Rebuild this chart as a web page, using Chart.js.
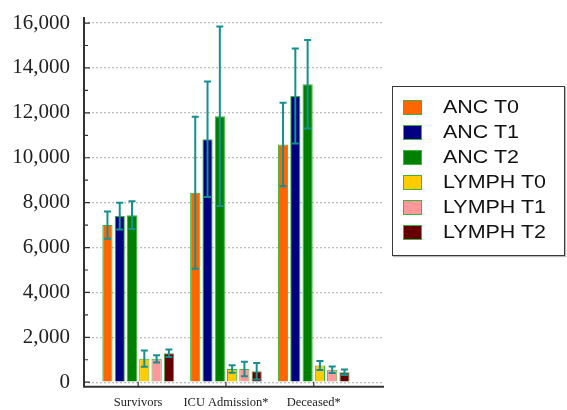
<!DOCTYPE html>
<html>
<head>
<meta charset="utf-8">
<script src="https://cdn.jsdelivr.net/npm/chart.js@4"></script>
<style>
  html, body { margin: 0; padding: 0; background: #fff; }
  #wrap { position: relative; width: 567px; height: 410px; overflow: hidden; }
  #legend { position: absolute; left: 392px; top: 86px; width: 171px; height: 168px;
            border: 1.5px solid #3a3a3a; box-shadow: 1px 1px 1px #bbb; background: #fff; }
  .item { position: absolute; left: 10px; height: 25px; }
  .sw { position: absolute; left: 0; top: 5px; width: 17px; height: 13px; border: 1px solid #3cb43c; }
  .lab { position: absolute; left: 40px; top: 0; font-family: "Liberation Sans", Arial, sans-serif;
         font-size: 19px; line-height: 24px; color: #111; white-space: nowrap;
         transform: scaleX(1.13); transform-origin: left center; }
</style>
</head>
<body>
<div id="wrap">
  <canvas id="c" width="567" height="410"></canvas>
  <div id="legend"></div>
</div>
<script>
const categories = ["Survivors", "ICU Admission*", "Deceased*"];
const seriesNames = ["ANC T0", "ANC T1", "ANC T2", "LYMPH T0", "LYMPH T1", "LYMPH T2"];
const seriesColors = ["#FF6600", "#000080", "#008000", "#FFCC00", "#FF9999", "#660000"];

const ancT0 = [7000, 8440, 10590];
const ancT1 = [7400, 10825, 12750];
const ancT2 = [7440, 11850, 13270];
const lymphT0 = [1050, 590, 740];
const lymphT1 = [1040, 590, 550];
const lymphT2 = [1290, 490, 445];

const ancT0Err = [610, 3390, 1860];
const ancT1Err = [600, 2570, 2115];
const ancT2Err = [620, 4000, 1970];
const lymphT0Err = [360, 170, 200];
const lymphT1Err = [160, 320, 145];
const lymphT2Err = [170, 370, 120];

const yTicks = [0, 2000, 4000, 6000, 8000, 10000, 12000, 14000, 16000];
const yMinorTicks = [1000, 3000, 5000, 7000, 9000, 11000, 13000, 15000];

const seriesValues = [ancT0, ancT1, ancT2, lymphT0, lymphT1, lymphT2];
const seriesErrors = [ancT0Err, ancT1Err, ancT2Err, lymphT0Err, lymphT1Err, lymphT2Err];

const datasets = seriesNames.map((name, s) => ({
  label: name,
  data: seriesValues[s].map((v, i) => ({ x: i + 1, y: v })),
  errors: seriesErrors[s],
  backgroundColor: seriesColors[s],
  borderColor: "#3cb43c",
  borderWidth: 1,
  categoryPercentage: 0.84,
  barPercentage: 0.83
}));

const frame = {
  id: "frame",
  afterDatasetsDraw(chart) {
    const ctx = chart.ctx;
    const y = chart.scales.y, x = chart.scales.x;
    ctx.save();
    ctx.strokeStyle = "#178f8f";
    ctx.lineWidth = 2;
    chart.data.datasets.forEach((ds, di) => {
      const meta = chart.getDatasetMeta(di);
      meta.data.forEach((bar, i) => {
        const v = ds.data[i].y, e = ds.errors[i];
        const yt = y.getPixelForValue(v + e), yb = y.getPixelForValue(v - e);
        ctx.beginPath();
        ctx.moveTo(bar.x, yt); ctx.lineTo(bar.x, yb);
        ctx.moveTo(bar.x - 3.5, yt); ctx.lineTo(bar.x + 3.5, yt);
        ctx.moveTo(bar.x - 3.5, yb); ctx.lineTo(bar.x + 3.5, yb);
        ctx.stroke();
      });
    });
    const ca = chart.chartArea;
    ctx.strokeStyle = "#333";
    ctx.lineWidth = 2;
    ctx.beginPath();
    ctx.moveTo(ca.left, ca.top); ctx.lineTo(ca.left, ca.bottom); ctx.lineTo(ca.right, ca.bottom);
    ctx.stroke();
    ctx.lineWidth = 1.2;
    ctx.beginPath();
    yTicks.forEach(t => { const p = y.getPixelForValue(t); ctx.moveTo(ca.left, p); ctx.lineTo(ca.left + 6, p); });
    yMinorTicks.forEach(t => { const p = y.getPixelForValue(t); ctx.moveTo(ca.left, p); ctx.lineTo(ca.left + 4, p); });
    categories.forEach((c, i) => { const p = x.getPixelForValue(i + 1); ctx.moveTo(p, ca.bottom); ctx.lineTo(p, ca.bottom - 5); });
    ctx.stroke();
    ctx.restore();
  }
};

new Chart(document.getElementById("c"), {
  type: "bar",
  data: { datasets },
  options: {
    responsive: false,
    animation: false,
    layout: { padding: { top: 17, right: 183, left: 0, bottom: 0 } },
    plugins: { legend: { display: false }, tooltip: { enabled: false } },
    scales: {
      x: {
        type: "linear",
        offset: false,
        min: 0.383,
        max: 3.8,
        afterBuildTicks: s => { s.ticks = categories.map((c, i) => ({ value: i + 1 })); },
        afterFit: s => { s.height = 23.3; s.paddingLeft = 0; s.paddingRight = 0; },
        ticks: {
          callback: v => categories[v - 1] || "",
          font: { family: "Liberation Serif", size: 12.5 },
          color: "#222",
          padding: 9,
          maxRotation: 0,
          autoSkip: false
        },
        grid: { display: false, drawTicks: false, offset: false },
        border: { display: false }
      },
      y: {
        min: -200,
        max: 16270,
        afterBuildTicks: s => { s.ticks = yTicks.map(v => ({ value: v })); },
        afterFit: s => { s.width = 84; s.paddingTop = 0; s.paddingBottom = 0; },
        ticks: {
          callback: v => v.toLocaleString("en-US"),
          font: { family: "Liberation Serif", size: 21 },
          color: "#222",
          padding: 14
        },
        grid: { color: "#bdbdbd", lineWidth: 1.3, drawTicks: false },
        border: { display: false, dash: [2, 2] }
      }
    }
  },
  plugins: [frame]
});

const legend = document.getElementById("legend");
seriesNames.forEach((n, i) => {
  const it = document.createElement("div");
  it.className = "item";
  it.style.top = (8 + i * 25) + "px";
  it.innerHTML = '<div class="sw" style="background:' + seriesColors[i] + '"></div><div class="lab">' + n + '</div>';
  legend.appendChild(it);
});
</script>
</body>
</html>
